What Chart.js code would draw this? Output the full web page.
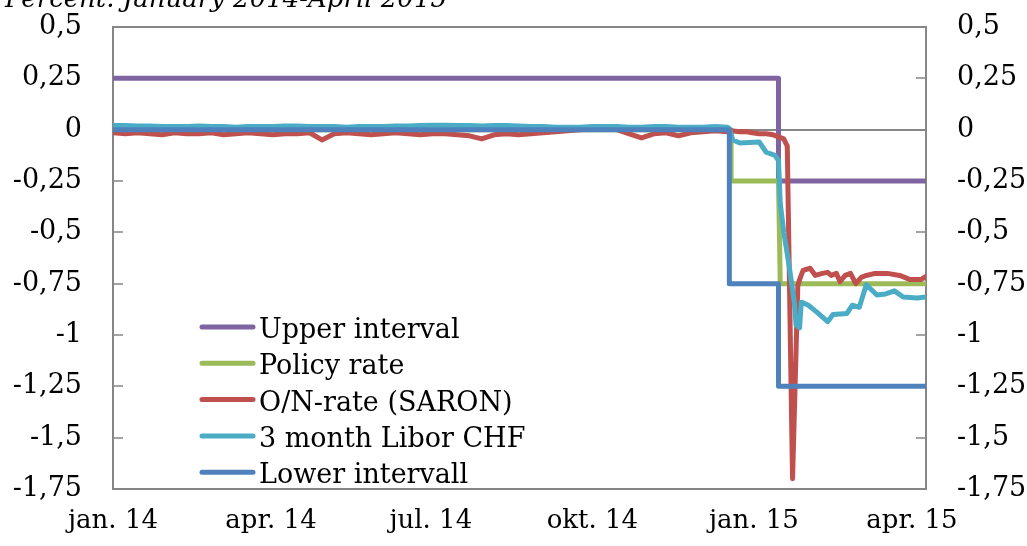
<!DOCTYPE html>
<html>
<head>
<meta charset="utf-8">
<script src="https://cdn.jsdelivr.net/npm/chart.js@4.4.0/dist/chart.umd.min.js"></script>
<style>
html, body { margin: 0; padding: 0; background: #fff; overflow: hidden; }
#wrap { position: relative; width: 1027px; height: 546px; }
#subtitle { position: absolute; left: 5px; top: -15px; font: italic 26px "DejaVu Serif"; line-height: 27px; white-space: nowrap; color: #000; }
</style>
</head>
<body>
<div id="wrap">
  <canvas id="chart" width="1027" height="546"></canvas>
  <div id="subtitle">Percent. January 2014-April 2015</div>
</div>
<script>
// x values are days counted from 1 Jan 2014
const xTickDays = [0, 90, 181, 273, 365, 455];
const xTickLabels = ['jan. 14', 'apr. 14', 'jul. 14', 'okt. 14', 'jan. 15', 'apr. 15'];

const upperDays = [0, 379, 379, 463];
const upperValues = [0.25, 0.25, -0.25, -0.25];

const policyDays = [0, 352, 352, 379, 380, 463];
const policyValues = [0, 0, -0.25, -0.25, -0.75, -0.75];

const lowerDays = [0, 351, 351, 379, 379, 463];
const lowerValues = [0, 0, -0.75, -0.75, -1.25, -1.25];

// weekly readings, Jan - mid Dec 2014
const weekDays = [0, 7, 14, 21, 28, 35, 42, 49, 56, 63, 70, 77, 84, 91, 98, 105, 112, 119, 126, 133,
  140, 147, 154, 161, 168, 175, 182, 189, 196, 203, 210, 217, 224, 231, 238, 245, 252, 259, 266, 273,
  280, 287, 294, 301, 308, 315, 322, 329, 336, 343, 350];

const saronWeekly = [-0.015, -0.02, -0.015, -0.02, -0.025, -0.015, -0.02, -0.02, -0.015, -0.025,
  -0.02, -0.015, -0.02, -0.025, -0.02, -0.02, -0.015, -0.05, -0.02, -0.015,
  -0.02, -0.025, -0.02, -0.015, -0.02, -0.025, -0.02, -0.02, -0.025, -0.03,
  -0.045, -0.025, -0.02, -0.025, -0.02, -0.015, -0.01, -0.005, 0.0, 0.005,
  0.01, 0.0, -0.02, -0.04, -0.02, -0.015, -0.03, -0.015, -0.01, -0.005, -0.01];
const saronLateDays = [352, 357, 361, 364, 368, 372, 376, 379, 382, 384,
  387, 390, 391, 393, 397, 400, 404, 407, 409, 412,
  414, 417, 420, 423, 426, 429, 434, 441, 448, 454, 460, 463];
const saronLateValues = [-0.005, -0.01, -0.01, -0.015, -0.02, -0.02, -0.025, -0.035, -0.045, -0.08,
  -1.7, -0.76, -0.73, -0.685, -0.675, -0.71, -0.7, -0.695, -0.71, -0.7,
  -0.74, -0.71, -0.7, -0.75, -0.72, -0.71, -0.7, -0.7, -0.71, -0.73, -0.73, -0.715];

const liborWeekly = [0.02, 0.02, 0.018, 0.018, 0.015, 0.015, 0.015, 0.018, 0.015, 0.015,
  0.012, 0.015, 0.015, 0.015, 0.018, 0.018, 0.015, 0.015, 0.015, 0.012,
  0.015, 0.015, 0.015, 0.018, 0.018, 0.02, 0.022, 0.022, 0.02, 0.02,
  0.018, 0.02, 0.02, 0.018, 0.015, 0.015, 0.012, 0.012, 0.012, 0.015,
  0.015, 0.015, 0.012, 0.012, 0.015, 0.015, 0.012, 0.012, 0.012, 0.015, 0.012];
const liborLateDays = [351, 353, 357, 368, 372, 377, 379, 380, 382, 385,
  388, 389, 391, 392, 396, 401, 407, 410, 418, 421,
  425, 429, 435, 440, 445, 450, 458, 463];
const liborLateValues = [0.005, -0.05, -0.065, -0.06, -0.11, -0.125, -0.15, -0.36, -0.5, -0.66,
  -0.84, -0.95, -0.965, -0.84, -0.855, -0.89, -0.935, -0.9, -0.895, -0.855,
  -0.865, -0.755, -0.805, -0.8, -0.785, -0.815, -0.82, -0.815];

const AXIS_GREY = '#868686';
const FONT = 'DejaVu Serif';

function toPoints(days, values) {
  return days.map((d, i) => ({ x: d, y: values[i] }));
}

function fmt(v) {
  return String(v).replace('.', ',');
}

// top edge of the plot frame
const topFrame = {
  id: 'topFrame',
  beforeDatasetsDraw(chart) {
    const { ctx, chartArea } = chart;
    ctx.save();
    ctx.strokeStyle = AXIS_GREY;
    ctx.lineWidth = 2;
    ctx.beginPath();
    ctx.moveTo(chartArea.left - 1, chartArea.top);
    ctx.lineTo(chartArea.right + 1, chartArea.top);
    ctx.stroke();
    ctx.restore();
  }
};

// legend drawn inside the plot area, like the original
const insideLegend = {
  id: 'insideLegend',
  afterDatasetsDraw(chart) {
    const ctx = chart.ctx;
    ctx.save();
    ctx.font = '27px "' + FONT + '"';
    ctx.textBaseline = 'alphabetic';
    chart.data.datasets.forEach((ds, i) => {
      const y = 327 + i * 36.3;
      ctx.strokeStyle = ds.borderColor;
      ctx.lineWidth = 5;
      ctx.lineCap = 'round';
      ctx.beginPath();
      ctx.moveTo(202, y);
      ctx.lineTo(253, y);
      ctx.stroke();
      ctx.fillStyle = '#000';
      ctx.fillText(ds.label, 259, y + 11);
    });
    ctx.restore();
  }
};

const yAxisBase = (position, width, onChart) => ({
  position: position,
  min: -1.75,
  max: 0.5,
  afterFit: s => {
    s.width = width;
    // the tick padding is only meant to move labels sideways
    s.paddingTop = 0;
    s.paddingBottom = 0;
  },
  ticks: {
    stepSize: 0.25,
    padding: 41,
    color: '#000',
    font: { family: FONT, size: 27 },
    callback: v => fmt(v)
  },
  grid: {
    drawOnChartArea: onChart,
    color: c => (c.tick && c.tick.value === 0) ? AXIS_GREY : 'rgba(0,0,0,0)',
    lineWidth: 2,
    tickColor: AXIS_GREY,
    tickLength: -10,
    tickWidth: 1.5
  },
  border: { display: true, color: AXIS_GREY, width: 2 }
});

new Chart(document.getElementById('chart'), {
  type: 'line',
  data: {
    datasets: [
      { label: 'Upper interval', data: toPoints(upperDays, upperValues), borderColor: '#8064A2', order: 4 },
      { label: 'Policy rate', data: toPoints(policyDays, policyValues), borderColor: '#9BBB59', order: 3 },
      { label: 'O/N-rate (SARON)', data: toPoints(weekDays.concat(saronLateDays), saronWeekly.concat(saronLateValues)), borderColor: '#C0504D', order: 2 },
      { label: '3 month Libor CHF', data: toPoints(weekDays.concat(liborLateDays), liborWeekly.concat(liborLateValues)), borderColor: '#4BACC6', order: 1 },
      { label: 'Lower intervall', data: toPoints(lowerDays, lowerValues), borderColor: '#4F81BD', order: 0 }
    ]
  },
  options: {
    responsive: false,
    animation: false,
    layout: { padding: { top: 27, left: 0, right: 0, bottom: 0 } },
    plugins: { legend: { display: false }, tooltip: { enabled: false } },
    elements: {
      point: { radius: 0 },
      line: { borderWidth: 5, tension: 0, fill: false, borderJoinStyle: 'round', borderCapStyle: 'round' }
    },
    scales: {
      x: {
        type: 'linear',
        position: 'bottom',
        min: 0,
        max: 463,
        afterBuildTicks: s => { s.ticks = xTickDays.map(v => ({ value: v })); },
        afterFit: s => { s.height = 57; },
        ticks: {
          autoSkip: false,
          maxRotation: 0,
          padding: 17,
          color: '#000',
          font: { family: FONT, size: 26 },
          callback: v => xTickLabels[xTickDays.indexOf(v)]
        },
        grid: { display: false, drawTicks: false },
        border: { display: true, color: AXIS_GREY, width: 2 }
      },
      y: yAxisBase('left', 113, true),
      y2: yAxisBase('right', 101, false)
    }
  },
  plugins: [topFrame, insideLegend]
});
</script>
</body>
</html>
